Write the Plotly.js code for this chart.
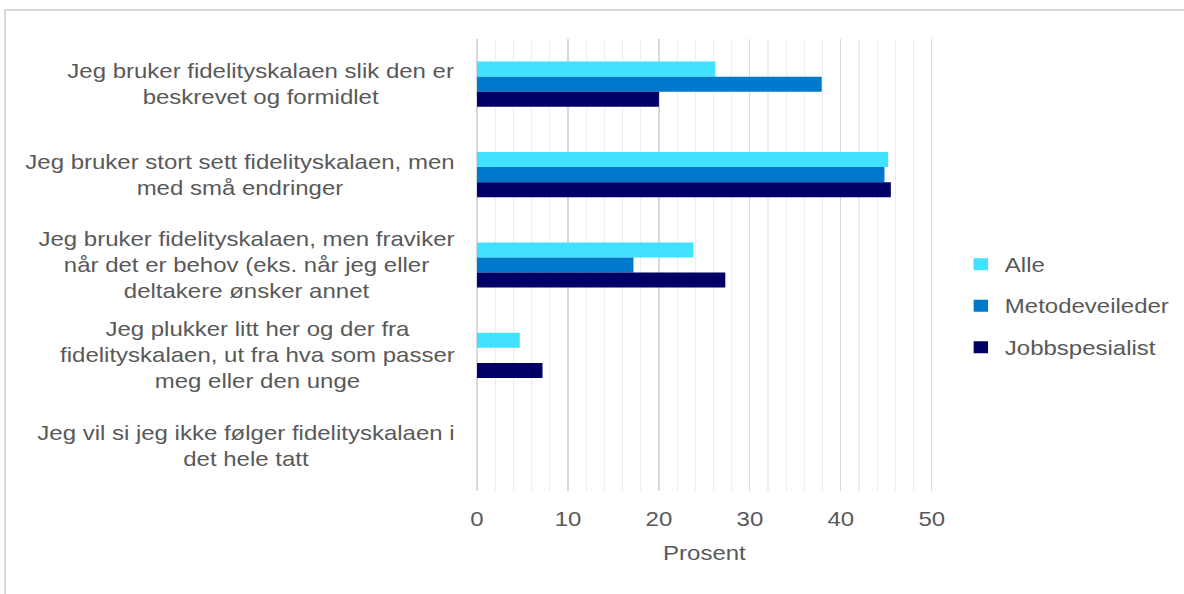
<!DOCTYPE html>
<html>
<head>
<meta charset="utf-8">
<script src="https://cdn.plot.ly/plotly-3.0.1.min.js"></script>
<style>
  html, body { margin: 0; padding: 0; background: #fff; overflow: hidden; }
  #frame { position: absolute; left: 4px; top: 9px; width: 1180px; height: 585px;
           border-top: 2px solid #d9d9d9; border-left: 2px solid #d9d9d9; box-sizing: border-box; }
  #wrap { position: absolute; left: 0; top: 0; width: 1184px; height: 594px; overflow: hidden; }
  #chart { position: absolute; left: 0; top: 0; width: 1060px; height: 594px;
           transform: scaleX(1.2); transform-origin: 0 0; }
</style>
</head>
<body>
<div id="frame"></div>
<div id="wrap"><div id="chart"></div></div>
<script>
const categories = [
  "Jeg bruker fidelityskalaen slik den er<br>beskrevet og formidlet",
  "Jeg bruker stort sett fidelityskalaen, men<br>med små endringer",
  "Jeg bruker fidelityskalaen, men fraviker<br>når det er behov (eks. når jeg eller<br>deltakere ønsker annet",
  "Jeg plukker litt her og der fra<br>fidelityskalaen, ut fra hva som passer<br>meg eller den unge",
  "Jeg vil si jeg ikke følger fidelityskalaen i<br>det hele tatt"
];
const seriesNames = ["Alle", "Metodeveileder", "Jobbspesialist"];
const alle = [26.2, 45.2, 23.8, 4.7, 0];
const metodeveileder = [37.9, 44.8, 17.2, 0, 0];
const jobbspesialist = [20.0, 45.5, 27.3, 7.2, 0];
const xTicks = [0, 10, 20, 30, 40, 50];
const colors = ["#41E2FF", "#0079CC", "#000066"];

const values = [alle, metodeveileder, jobbspesialist];
const catIdx = categories.map((c, i) => i);

const traces = values.map((v, k) => ({
  type: "bar",
  orientation: "h",
  name: seriesNames[k],
  legendgroup: seriesNames[k],
  x: v,
  y: catIdx,
  marker: { color: colors[k] },
  hoverinfo: "x+name"
}));

const FONT = "Liberation Sans, Arial, sans-serif";

const annotations = categories.map((c, i) => ({
  xref: "paper", yref: "y",
  x: 0, y: i,
  xshift: -15.5,
  xanchor: "right", yanchor: "middle",
  align: "center",
  text: c,
  showarrow: false,
  font: { family: FONT, size: 20, color: "#595959" }
}));

const layout = {
  width: 1060, height: 594,
  margin: { l: 396, r: 281.5, t: 39, b: 103 },
  paper_bgcolor: "rgba(0,0,0,0)",
  plot_bgcolor: "rgba(0,0,0,0)",
  font: { family: FONT, size: 20, color: "#595959" },
  barmode: "group",
  bargap: 0.5,
  bargroupgap: 0,
  showlegend: true,
  legend: {
    x: 1.0507, xanchor: "left",
    y: 0.41, yanchor: "middle",
    traceorder: "grouped",
    tracegroupgap: 12.5,
    font: { family: FONT, size: 20, color: "#595959" },
    itemclick: false
  },
  xaxis: {
    range: [-0.2, 50.2],
    tickvals: xTicks,
    ticktext: xTicks.map(String),
    showgrid: true,
    gridcolor: "#d9d9d9",
    gridwidth: 1.25,
    minor: { dtick: 2, showgrid: true, gridcolor: "#ededed", gridwidth: 1.25 },
    zeroline: false,
    showline: false,
    ticks: "",
    ticklabelstandoff: 14,
    tickfont: { family: FONT, size: 20, color: "#595959" },
    title: { text: "Prosent", font: { family: FONT, size: 20, color: "#595959" }, standoff: 17 },
    fixedrange: true
  },
  yaxis: {
    range: [4.5, -0.5],
    tickvals: catIdx,
    showticklabels: false,
    showgrid: false,
    zeroline: false,
    showline: false,
    ticks: "",
    fixedrange: true
  },
  annotations: annotations
};

Plotly.newPlot("chart", traces, layout, { displayModeBar: false });
</script>
</body>
</html>
